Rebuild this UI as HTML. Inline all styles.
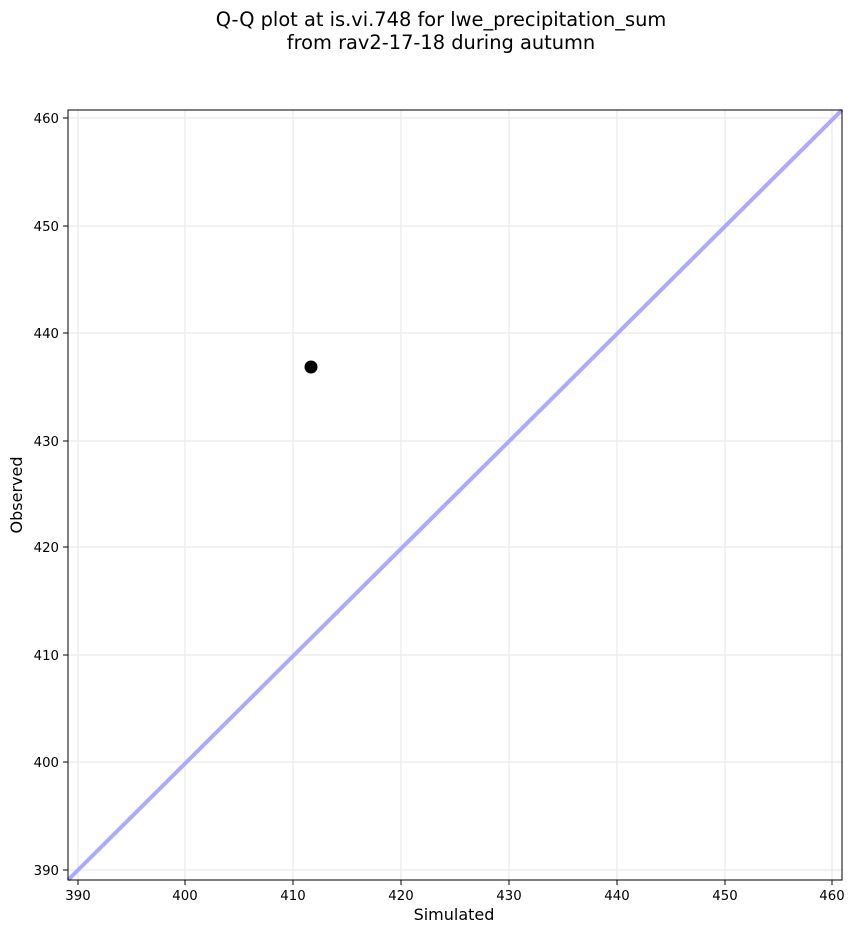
<!DOCTYPE html>
<html><head><meta charset="utf-8"><style>body{margin:0;background:#fff}svg{display:block}</style></head>
<body>
<svg width="855" height="934" xmlns="http://www.w3.org/2000/svg" font-family="DejaVu Sans, Liberation Sans, sans-serif">
<rect width="855" height="934" fill="#fff"/>
<text x="441" y="26" font-size="19.4" text-anchor="middle">Q-Q plot at is.vi.748 for lwe_precipitation_sum</text>
<text x="441" y="49" font-size="19.4" text-anchor="middle">from rav2-17-18 during autumn</text>
<g stroke="#ebebeb" stroke-width="1.3">
<line x1="78" y1="110" x2="78" y2="880"/><line x1="185" y1="110" x2="185" y2="880"/><line x1="293" y1="110" x2="293" y2="880"/><line x1="401" y1="110" x2="401" y2="880"/><line x1="509" y1="110" x2="509" y2="880"/><line x1="617" y1="110" x2="617" y2="880"/><line x1="725" y1="110" x2="725" y2="880"/><line x1="832" y1="110" x2="832" y2="880"/>
<line x1="68" y1="118" x2="842" y2="118"/><line x1="68" y1="226" x2="842" y2="226"/><line x1="68" y1="333" x2="842" y2="333"/><line x1="68" y1="441" x2="842" y2="441"/><line x1="68" y1="547" x2="842" y2="547"/><line x1="68" y1="655" x2="842" y2="655"/><line x1="68" y1="762" x2="842" y2="762"/><line x1="68" y1="870" x2="842" y2="870"/>
</g>
<line x1="68" y1="880" x2="842" y2="110" stroke="#aaaaff" stroke-width="4"/>
<circle cx="311" cy="367" r="6.5" fill="#000"/>
<rect x="68" y="110" width="774" height="770" fill="none" stroke="#000" stroke-width="1"/>
<g stroke="#000"><line x1="78" y1="880" x2="78" y2="885"/><line x1="185" y1="880" x2="185" y2="885"/><line x1="293" y1="880" x2="293" y2="885"/><line x1="401" y1="880" x2="401" y2="885"/><line x1="509" y1="880" x2="509" y2="885"/><line x1="617" y1="880" x2="617" y2="885"/><line x1="725" y1="880" x2="725" y2="885"/><line x1="832" y1="880" x2="832" y2="885"/>
<line x1="63" y1="118" x2="68" y2="118"/><line x1="63" y1="226" x2="68" y2="226"/><line x1="63" y1="333" x2="68" y2="333"/><line x1="63" y1="441" x2="68" y2="441"/><line x1="63" y1="547" x2="68" y2="547"/><line x1="63" y1="655" x2="68" y2="655"/><line x1="63" y1="762" x2="68" y2="762"/><line x1="63" y1="870" x2="68" y2="870"/></g>
<g font-size="13.3" text-anchor="middle"><text x="78" y="900">390</text><text x="185" y="900">400</text><text x="293" y="900">410</text><text x="401" y="900">420</text><text x="509" y="900">430</text><text x="617" y="900">440</text><text x="725" y="900">450</text><text x="832" y="900">460</text></g>
<g font-size="13.3" text-anchor="end"><text x="59" y="123">460</text><text x="59" y="231">450</text><text x="59" y="338">440</text><text x="59" y="446">430</text><text x="59" y="552">420</text><text x="59" y="660">410</text><text x="59" y="767">400</text><text x="59" y="875">390</text></g>
<text x="454" y="920" font-size="16" text-anchor="middle">Simulated</text>
<text transform="translate(22,495) rotate(-90)" font-size="16" text-anchor="middle">Observed</text>
</svg>
</body></html>
